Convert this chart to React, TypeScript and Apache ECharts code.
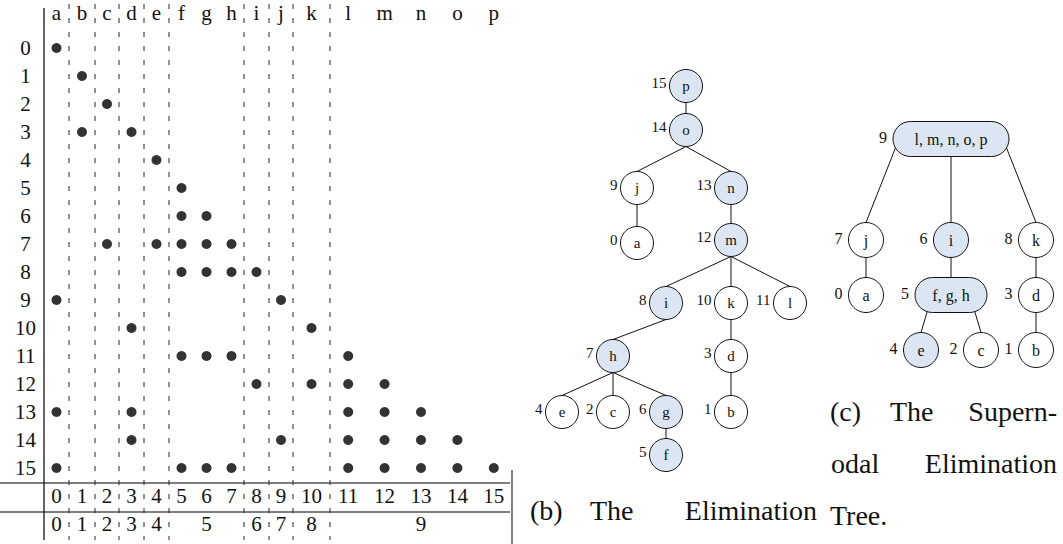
import React, { useEffect, useRef } from "react";
import * as echarts from "echarts";

// ---------------------------------------------------------------------------
// Data: a 16x16 sparse Cholesky factor, its elimination tree and supernodes
// ---------------------------------------------------------------------------
const columns = ["a", "b", "c", "d", "e", "f", "g", "h", "i", "j", "k", "l", "m", "n", "o", "p"];

// fundamental supernodes (groups of consecutive columns)
const supernodes = [["a"], ["b"], ["c"], ["d"], ["e"], ["f", "g", "h"], ["i"], ["j"], ["k"], ["l", "m", "n", "o", "p"]];

// nonzero pattern of the factor L, row by row (row i lists its nonzero columns)
const rowPattern: string[][] = [
  ["a"],
  ["b"],
  ["c"],
  ["b", "d"],
  ["e"],
  ["f"],
  ["f", "g"],
  ["c", "e", "f", "g", "h"],
  ["f", "g", "h", "i"],
  ["a", "j"],
  ["d", "k"],
  ["f", "g", "h", "l"],
  ["i", "k", "l", "m"],
  ["a", "d", "l", "m", "n"],
  ["d", "j", "l", "m", "n", "o"],
  ["a", "f", "g", "h", "l", "m", "n", "o", "p"],
];

// highlighted nodes
const etreeShaded = ["f", "g", "h", "i", "m", "n", "o", "p"];
const streeShaded = [4, 5, 6, 9];

// caption texts
const captionB = ["(b)", "The", "Elimination"];
const captionC = [["(c)", "The", "Supern-"], ["odal", "Elimination"], ["Tree."]];

// ---------------------------------------------------------------------------
// Layout (pixels)
// ---------------------------------------------------------------------------
const W = 1063;
const H = 544;
const SERIF = "Liberation Serif";
const INK = "#111";
const SHADE = "#dce6f2";

const ROW0_Y = 48;
const ROW_H = 28;
const ROW_MIN = -1.5;
const ROW_MAX = 17.5;
const HEADER_ROW = -1.26;
const ROW_LABEL_X = 25.5;
const MATRIX_FONT = 21;

// table rules bounding each supernode's block of columns
const groupEdges = [44, 69, 95, 119, 144, 169, 244, 269, 293, 330, 512];

const colCenter: Record<string, number> = {};
const groupCenter: number[] = [];
supernodes.forEach((cols, g) => {
  const x0 = groupEdges[g];
  const x1 = groupEdges[g + 1];
  cols.forEach((c, j) => {
    colCenter[c] = x0 + ((j + 0.5) * (x1 - x0)) / cols.length;
  });
  groupCenter.push((x0 + x1) / 2);
});

// node positions of the two trees
const etreePos: Record<string, [number, number]> = {
  p: [686, 86], o: [686, 130],
  j: [637, 188], n: [731, 188],
  a: [637, 243], m: [731, 240],
  i: [666, 303], k: [731, 303], l: [790, 303],
  h: [613, 356], d: [731, 356],
  e: [562, 412], c: [613, 412], g: [666, 412], b: [731, 412],
  f: [666, 455],
};
const streePos: [number, number][] = [
  [866, 295], [1036, 350], [981, 350], [1036, 295], [921, 350],
  [951, 295], [951, 240], [866, 240], [1036, 240], [951, 139],
];
const streeWidth: Record<number, number> = { 5: 72, 9: 116 };

// ---------------------------------------------------------------------------
// Tree structure derived from the pattern
// ---------------------------------------------------------------------------
function etreeParent(col: string): string | null {
  const j = columns.indexOf(col);
  for (let i = j + 1; i < rowPattern.length; i++) {
    if (rowPattern[i].includes(col)) return columns[i];
  }
  return null;
}
function supernodeOf(col: string): number {
  return supernodes.findIndex((s) => s.includes(col));
}

type TreeNode = {
  label: string;
  order: number;
  parent: number;
  shaded: boolean;
  pos: [number, number];
  w: number;
  h: number;
  font: number;
  gap: number;
  dy: number;
};

const etreeNodes: TreeNode[] = columns.map((c, idx) => {
  const par = etreeParent(c);
  return {
    label: c,
    order: idx,
    parent: par ? columns.indexOf(par) : -1,
    shaded: etreeShaded.includes(c),
    pos: etreePos[c],
    w: 33,
    h: 33,
    font: 15,
    gap: 3,
    dy: -3,
  };
});

const streeNodes: TreeNode[] = supernodes.map((cols, s) => {
  const par = etreeParent(cols[cols.length - 1]);
  return {
    label: cols.join(", "),
    order: s,
    parent: par ? supernodeOf(par) : -1,
    shaded: streeShaded.includes(s),
    pos: streePos[s],
    w: streeWidth[s] ?? 35,
    h: 35,
    font: 16,
    gap: 6,
    dy: -2,
  };
});

const treeNodes = [...etreeNodes, ...streeNodes];

function edgeOf(parent: TreeNode, child: TreeNode): number[] {
  const [px, py] = parent.pos;
  const [cx, cy] = child.pos;
  let sx = px;
  let sy = py + parent.h / 2;
  if (parent.w > parent.h) {
    const lim = parent.w / 2 - 6;
    sx = px + Math.max(-lim, Math.min(lim, 0.63 * (cx - px)));
    sy = py;
  }
  return [sx, sy, cx, cy - child.h / 2];
}

const treeEdges: number[][] = [];
etreeNodes.forEach((n) => {
  if (n.parent >= 0) treeEdges.push(edgeOf(etreeNodes[n.parent], n));
});
streeNodes.forEach((n) => {
  if (n.parent >= 0) treeEdges.push(edgeOf(streeNodes[n.parent], n));
});

// ---------------------------------------------------------------------------
// Matrix marks
// ---------------------------------------------------------------------------
const nonzeros: number[][] = [];
rowPattern.forEach((cols, r) => cols.forEach((c) => nonzeros.push([colCenter[c], r])));

type Label = { value: number[]; text: string };
const matrixLabels: Label[] = [
  ...columns.map((c) => ({ value: [colCenter[c], HEADER_ROW], text: c })),
  ...rowPattern.map((_, r) => ({ value: [ROW_LABEL_X, r], text: String(r) })),
  ...columns.map((c, i) => ({ value: [colCenter[c], 16], text: String(i) })),
  ...supernodes.map((_, g) => ({ value: [groupCenter[g], 17], text: String(g) })),
];

const separators = groupEdges.slice(1, -1).map((x) => [x, 0]);

function textStyle(text: string, size: number, align: string) {
  return {
    text,
    fontSize: size,
    fontFamily: SERIF,
    fill: INK,
    align,
    textAlign: align,
    verticalAlign: "middle",
    textVerticalAlign: "middle",
  };
}

function captionWord(text: string, x: number, y: number, align: string) {
  return { type: "text", x, y, silent: true, style: textStyle(text, 28, align) };
}

function buildOption(): any {
  return {
    animation: false,
    backgroundColor: "#ffffff",
    grid: [
      { left: 0, top: ROW0_Y + ROW_MIN * ROW_H, width: W, height: (ROW_MAX - ROW_MIN) * ROW_H },
      { left: 0, top: 0, width: W, height: H },
    ],
    xAxis: [
      { type: "value", gridIndex: 0, min: 0, max: W, show: false },
      { type: "value", gridIndex: 1, min: 0, max: W, show: false },
    ],
    yAxis: [
      { type: "value", gridIndex: 0, min: ROW_MIN, max: ROW_MAX, inverse: true, show: false },
      { type: "value", gridIndex: 1, min: 0, max: H, inverse: true, show: false },
    ],
    series: [
      {
        name: "block rules",
        type: "custom",
        xAxisIndex: 0,
        yAxisIndex: 0,
        silent: true,
        data: separators,
        renderItem: (_p: any, api: any) => {
          const x = api.value(0);
          const a = api.coord([x, -1.57]);
          const b = api.coord([x, 17.57]);
          return {
            type: "line",
            shape: { x1: a[0], y1: a[1], x2: b[0], y2: b[1] },
            style: { stroke: "#222", lineWidth: 1, lineDash: [5, 9] },
          };
        },
      },
      {
        name: "nonzeros",
        type: "scatter",
        xAxisIndex: 0,
        yAxisIndex: 0,
        symbol: "circle",
        symbolSize: 10,
        itemStyle: { color: "#000" },
        silent: true,
        data: nonzeros,
      },
      {
        name: "matrix labels",
        type: "custom",
        xAxisIndex: 0,
        yAxisIndex: 0,
        silent: true,
        data: matrixLabels.map((l) => l.value),
        renderItem: (params: any, api: any) => {
          const p = api.coord([api.value(0), api.value(1)]);
          return {
            type: "text",
            x: p[0],
            y: p[1],
            style: textStyle(matrixLabels[params.dataIndex].text, MATRIX_FONT, "center"),
          };
        },
      },
      {
        name: "tree edges",
        type: "custom",
        xAxisIndex: 1,
        yAxisIndex: 1,
        silent: true,
        z: 2,
        data: treeEdges,
        encode: { x: [0, 2], y: [1, 3] },
        renderItem: (_p: any, api: any) => {
          const a = api.coord([api.value(0), api.value(1)]);
          const b = api.coord([api.value(2), api.value(3)]);
          return {
            type: "line",
            shape: { x1: a[0], y1: a[1], x2: b[0], y2: b[1] },
            style: { stroke: INK, lineWidth: 1 },
          };
        },
      },
      {
        name: "tree nodes",
        type: "custom",
        xAxisIndex: 1,
        yAxisIndex: 1,
        silent: true,
        z: 3,
        data: treeNodes.map((n) => n.pos),
        renderItem: (params: any, api: any) => {
          const n = treeNodes[params.dataIndex];
          const [cx, cy] = api.coord([api.value(0), api.value(1)]);
          const style = { fill: n.shaded ? SHADE : "#fff", stroke: INK, lineWidth: 1 };
          const body =
            n.w > n.h
              ? { type: "rect", shape: { x: cx - n.w / 2, y: cy - n.h / 2, width: n.w, height: n.h, r: n.h / 2 }, style }
              : { type: "circle", shape: { cx, cy, r: n.h / 2 }, style };
          return {
            type: "group",
            children: [
              body,
              { type: "text", x: cx, y: cy, style: textStyle(n.label, n.font, "center") },
              {
                type: "text",
                x: cx - n.w / 2 - n.gap,
                y: cy + n.dy,
                style: textStyle(String(n.order), n.font, "right"),
              },
            ],
          };
        },
      },
    ],
    graphic: [
      // solid rule left of the columns
      { type: "line", silent: true, shape: { x1: 44, y1: 8, x2: 44, y2: 540 }, style: { stroke: "#000", lineWidth: 1.2 } },
      // rules above the ordering rows
      { type: "line", silent: true, shape: { x1: 0, y1: 483, x2: 510, y2: 483 }, style: { stroke: "#000", lineWidth: 1.2 } },
      { type: "line", silent: true, shape: { x1: 0, y1: 512, x2: 510, y2: 512 }, style: { stroke: "#000", lineWidth: 1.2 } },
      { type: "line", silent: true, shape: { x1: 512, y1: 470, x2: 512, y2: 544 }, style: { stroke: "#000", lineWidth: 1 } },
      // caption (b)
      captionWord(captionB[0], 530, 510.5, "left"),
      captionWord(captionB[1], 590, 510.5, "left"),
      captionWord(captionB[2], 817, 510.5, "right"),
      // caption (c)
      captionWord(captionC[0][0], 830, 411.5, "left"),
      captionWord(captionC[0][1], 890, 411.5, "left"),
      captionWord(captionC[0][2], 1057, 411.5, "right"),
      captionWord(captionC[1][0], 831, 463.5, "left"),
      captionWord(captionC[1][1], 1057, 463.5, "right"),
      captionWord(captionC[2][0], 830, 515.5, "left"),
    ],
  };
}

export default function App() {
  const ref = useRef<HTMLDivElement>(null);
  useEffect(() => {
    const el = ref.current;
    if (!el) return;
    const chart = echarts.init(el, undefined, { renderer: "svg" });
    chart.setOption(buildOption());
    return () => chart.dispose();
  }, []);
  return (
    <div
      ref={ref}
      style={{ position: "fixed", left: 0, top: 0, width: W, height: H, background: "#fff" }}
    />
  );
}
